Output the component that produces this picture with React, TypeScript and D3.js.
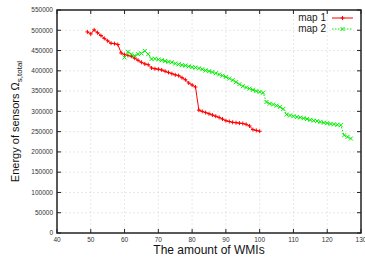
import * as d3 from 'd3';

const xTicks = [40, 50, 60, 70, 80, 90, 100, 110, 120, 130];
const yTicks = [0, 50000, 100000, 150000, 200000, 250000, 300000, 350000, 400000, 450000, 500000, 550000];

const map1X = [49, 50, 51, 52, 53, 54, 55, 56, 57, 58, 59, 60, 61, 62, 63, 64, 65, 66, 67, 68, 69, 70, 71, 72, 73, 74, 75, 76, 77, 78, 79, 80, 81, 82, 83, 84, 85, 86, 87, 88, 89, 90, 91, 92, 93, 94, 95, 96, 97, 98, 99, 100];
const map1Y = [496000, 491000, 501000, 494000, 487000, 480000, 474000, 468000, 467000, 465000, 444000, 440000, 438000, 436000, 431000, 426000, 421000, 417000, 415000, 407000, 405000, 404000, 402000, 399000, 396000, 393000, 390000, 388000, 383000, 378000, 370000, 365000, 360000, 303000, 300000, 297000, 294000, 291000, 288000, 285000, 281000, 277000, 275000, 273000, 272000, 271000, 270000, 268000, 264000, 255000, 253000, 251000];

const map2X = [60, 61, 62, 63, 64, 65, 66, 67, 68, 69, 70, 71, 72, 73, 74, 75, 76, 77, 78, 79, 80, 81, 82, 83, 84, 85, 86, 87, 88, 89, 90, 91, 92, 93, 94, 95, 96, 97, 98, 99, 100, 101, 102, 103, 104, 105, 106, 107, 108, 109, 110, 111, 112, 113, 114, 115, 116, 117, 118, 119, 120, 121, 122, 123, 124, 125, 126, 127];
const map2Y = [433000, 447000, 441000, 437000, 441000, 443000, 449000, 441000, 429000, 430000, 428000, 426000, 424000, 422000, 421000, 418000, 416000, 414000, 413000, 411000, 409000, 408000, 406000, 404000, 401000, 399000, 397000, 394000, 391000, 388000, 385000, 381000, 377000, 372000, 367000, 362000, 359000, 356000, 353000, 350000, 348000, 346000, 323000, 319000, 317000, 314000, 311000, 306000, 292000, 290000, 288000, 286000, 285000, 283000, 281000, 279000, 277000, 276000, 274000, 272000, 271000, 269000, 268000, 267000, 266000, 241000, 237000, 233000];

const seriesNames = ['map 1', 'map 2'];

export default function App() {
    const width = 365;
    const height = 260;
    const m = { t: 10, r: 4, b: 27, l: 57 };
    const font = 'Liberation Sans, Arial, sans-serif';

    const x = d3.scaleLinear().domain([40, 130]).range([m.l, width - m.r]);
    const y = d3.scaleLinear().domain([0, 550000]).range([height - m.b, m.t]);

    const line = d3.line<[number, number]>().x(d => x(d[0])).y(d => y(d[1]));
    const pts1: [number, number][] = map1X.map((v, i) => [v, map1Y[i]]);
    const pts2: [number, number][] = map2X.map((v, i) => [v, map2Y[i]]);

    const ms = 2;
    const plus = (cx: number, cy: number) => `M${cx - ms},${cy}H${cx + ms}M${cx},${cy - ms}V${cy + ms}`;
    const cross = (cx: number, cy: number) => `M${cx - ms},${cy - ms}L${cx + ms},${cy + ms}M${cx - ms},${cy + ms}L${cx + ms},${cy - ms}`;

    const x0 = x.range()[0], x1 = x.range()[1];
    const y0 = y.range()[0], y1 = y.range()[1];
    const tl = 4;

    return (
        <svg width={width} height={height} style={{ position: 'absolute', left: 0, top: 0, background: '#fff' }}>
            {/* grid */}
            {xTicks.slice(1, -1).map(t => (
                <line key={'gx' + t} x1={x(t)} x2={x(t)} y1={y0} y2={y1} stroke="#d8d8d8" strokeWidth={0.6} strokeDasharray="2,2" />
            ))}
            {yTicks.slice(1, -1).map(t => (
                <line key={'gy' + t} x1={x0} x2={x1} y1={y(t)} y2={y(t)} stroke="#d8d8d8" strokeWidth={0.6} strokeDasharray="2,2" />
            ))}
            {/* ticks */}
            {xTicks.map(t => (
                <g key={'tx' + t}>
                    <line x1={x(t)} x2={x(t)} y1={y0} y2={y0 - tl} stroke="#222" strokeWidth={1} />
                    <line x1={x(t)} x2={x(t)} y1={y1} y2={y1 + tl} stroke="#222" strokeWidth={1} />
                    <text x={x(t)} y={y0 + 9} textAnchor="middle" fontSize={6.5} fill="#333" fontFamily={font}>{t}</text>
                </g>
            ))}
            {yTicks.map(t => (
                <g key={'ty' + t}>
                    <line x1={x0} x2={x0 + tl} y1={y(t)} y2={y(t)} stroke="#222" strokeWidth={1} />
                    <line x1={x1} x2={x1 - tl} y1={y(t)} y2={y(t)} stroke="#222" strokeWidth={1} />
                    <text x={x0 - 4} y={y(t) + 2.3} textAnchor="end" fontSize={6.5} fill="#333" fontFamily={font}>{t}</text>
                </g>
            ))}
            <rect x={x0} y={y1} width={x1 - x0} height={y0 - y1} fill="none" stroke="#222" strokeWidth={1.5} />

            {/* series */}
            <path d={line(pts1) ?? ''} fill="none" stroke="#ff0000" strokeWidth={1} />
            <path d={pts1.map(p => plus(x(p[0]), y(p[1]))).join('')} stroke="#ff0000" strokeWidth={1} fill="none" />
            <path d={line(pts2) ?? ''} fill="none" stroke="#00ee00" strokeWidth={1} strokeDasharray="1.5,1.5" />
            <path d={pts2.map(p => cross(x(p[0]), y(p[1]))).join('')} stroke="#00ee00" strokeWidth={1} fill="none" />

            {/* legend */}
            <g fontFamily={font} fontSize={10} fill="#222">
                <text x={326} y={21} textAnchor="end">{seriesNames[0]}</text>
                <line x1={332} x2={353} y1={18} y2={18} stroke="#ff0000" strokeWidth={1} />
                <path d={plus(342.5, 18)} stroke="#ff0000" strokeWidth={1} />
                <text x={326} y={32} textAnchor="end">{seriesNames[1]}</text>
                <line x1={332} x2={353} y1={29} y2={29} stroke="#00ee00" strokeWidth={1} strokeDasharray="1.5,1.5" />
                <path d={cross(342.5, 29)} stroke="#00ee00" strokeWidth={1} />
            </g>

            {/* axis titles */}
            <text x={(x0 + x1) / 2} y={254} textAnchor="middle" fontSize={12} fill="#111" fontFamily={font}>The amount of WMIs</text>
            <text transform={`translate(19, ${(y0 + y1) / 2}) rotate(-90)`} textAnchor="middle" fontSize={11} fill="#111" fontFamily={font}>
                Energy of sensors  Ω<tspan fontSize={8} dy={2.5}>s,total</tspan>
            </text>
        </svg>
    );
}
